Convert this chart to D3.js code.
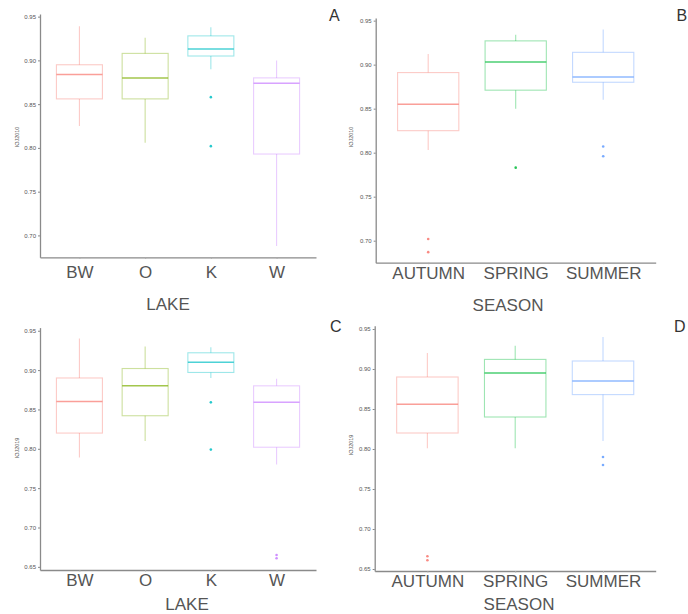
<!DOCTYPE html>
<html>
<head>
<meta charset="utf-8">
<script src="https://cdn.jsdelivr.net/npm/d3@7"></script>
<style>
  body { margin: 0; background: #fff; }
  svg { display: block; font-family: 'Liberation Sans', Arial, sans-serif; }
</style>
</head>
<body>
<svg id="chart"></svg>
<script>
const width = 688;
const height = 614;

const lakes = ['BW', 'O', 'K', 'W'];
const seasons = ['AUTUMN', 'SPRING', 'SUMMER'];
const lakeColors = ['#F8766D', '#7CAE00', '#00BFC4', '#C77CFF'];
const seasonColors = ['#F8766D', '#00BA38', '#619CFF'];
const yTicks = [0.65, 0.70, 0.75, 0.80, 0.85, 0.90, 0.95];

// [whisker low, q1, median, q3, whisker high]
const lake2010 = [
    [0.825, 0.856, 0.884, 0.895, 0.939],
    [0.806, 0.856, 0.880, 0.908, 0.926],
    [0.890, 0.905, 0.913, 0.928, 0.938],
    [0.688, 0.793, 0.874, 0.880, 0.900]
];
const lake2010Out = [[], [], [0.858, 0.802], []];

const season2010 = [
    [0.803, 0.825, 0.855, 0.891, 0.912],
    [0.850, 0.871, 0.903, 0.927, 0.934],
    [0.860, 0.880, 0.886, 0.914, 0.940]
];
const season2010Out = [[0.702, 0.687], [0.783], [0.807, 0.796]];

const lake2019 = [
    [0.789, 0.820, 0.860, 0.890, 0.940],
    [0.810, 0.842, 0.880, 0.902, 0.930],
    [0.890, 0.897, 0.910, 0.922, 0.929],
    [0.780, 0.802, 0.859, 0.880, 0.889]
];
const lake2019Out = [[], [], [0.859, 0.799], [0.665, 0.661]];

const season2019 = [
    [0.801, 0.820, 0.856, 0.890, 0.920],
    [0.801, 0.840, 0.895, 0.912, 0.929],
    [0.810, 0.868, 0.885, 0.910, 0.940]
];
const season2019Out = [[0.666, 0.661], [], [0.790, 0.780]];

const panels = [
    { letter: 'A', yLabel: 'IOJ2010', xLabel: 'LAKE', cats: lakes, colors: lakeColors,
      stats: lake2010, out: lake2010Out, domain: [0.675, 0.953],
      x0: 40, x1: 316, y0: 14, y1: 257.3, gap: 7, titleX: 168, titleY: 310,
      letterX: 329, letterY: 21, yTitleX: 19, yTitleY: 137 },
    { letter: 'B', yLabel: 'IOJ2010', xLabel: 'SEASON', cats: seasons, colors: seasonColors,
      stats: season2010, out: season2010Out, domain: [0.675, 0.953],
      x0: 375.7, x1: 655.7, y0: 18, y1: 262.7, gap: 2.5, titleX: 508, titleY: 310.5,
      letterX: 676.5, letterY: 21, yTitleX: 353, yTitleY: 137 },
    { letter: 'C', yLabel: 'IOJ2019', xLabel: 'LAKE', cats: lakes, colors: lakeColors,
      stats: lake2019, out: lake2019Out, domain: [0.646, 0.954],
      x0: 40, x1: 316, y0: 327.6, y1: 570, gap: 2.5, titleX: 187, titleY: 609.5,
      letterX: 330, letterY: 332, yTitleX: 19, yTitleY: 448 },
    { letter: 'D', yLabel: 'IOJ2019', xLabel: 'SEASON', cats: seasons, colors: seasonColors,
      stats: season2019, out: season2019Out, domain: [0.6475, 0.954],
      x0: 374.7, x1: 655.7, y0: 325.8, y1: 571, gap: 2.5, titleX: 519, titleY: 610,
      letterX: 674, letterY: 332, yTitleX: 353, yTitleY: 445 }
];

const svg = d3.select('#chart')
    .attr('width', width)
    .attr('height', height);

panels.forEach(p => {
    const g = svg.append('g');

    const x = d3.scalePoint()
        .domain(p.cats)
        .range([p.x0, p.x1])
        .padding(0.6);
    const boxW = x.step() * 0.7;

    const y = d3.scaleLinear()
        .domain(p.domain)
        .range([p.y1, p.y0]);

    // y axis
    const yAxis = g.append('g')
        .attr('transform', `translate(${p.x0},0)`)
        .call(d3.axisLeft(y)
            .tickValues(yTicks.filter(t => t >= p.domain[0] && t <= p.domain[1]))
            .tickFormat(d3.format('.2f'))
            .tickSize(2)
            .tickSizeOuter(0)
            .tickPadding(2));
    yAxis.selectAll('text')
        .attr('font-size', 6)
        .attr('font-family', "'Liberation Sans', Arial, sans-serif")
        .attr('fill', '#555');
    yAxis.selectAll('line').attr('stroke', '#888');
    yAxis.select('.domain').attr('stroke', '#8a8a8a').attr('stroke-width', 1.3);

    // x axis
    const xAxis = g.append('g')
        .attr('transform', `translate(0,${p.y1})`)
        .call(d3.axisBottom(x)
            .tickSize(1.5)
            .tickSizeOuter(0)
            .tickPadding(p.gap));
    xAxis.selectAll('text')
        .attr('font-size', 17)
        .attr('font-family', "'Liberation Sans', Arial, sans-serif")
        .attr('fill', '#555');
    xAxis.selectAll('line').attr('stroke', '#aaa');
    xAxis.select('.domain').attr('stroke', '#8a8a8a').attr('stroke-width', 1.3);

    // boxes
    const boxes = g.selectAll('.box')
        .data(p.stats)
        .enter()
        .append('g')
        .attr('class', 'box');

    boxes.append('line')
        .attr('x1', (d, i) => x(p.cats[i]))
        .attr('x2', (d, i) => x(p.cats[i]))
        .attr('y1', d => y(d[4]))
        .attr('y2', d => y(d[3]))
        .attr('stroke', (d, i) => p.colors[i])
        .attr('stroke-opacity', 0.38)
        .attr('stroke-width', 1.1);

    boxes.append('line')
        .attr('x1', (d, i) => x(p.cats[i]))
        .attr('x2', (d, i) => x(p.cats[i]))
        .attr('y1', d => y(d[1]))
        .attr('y2', d => y(d[0]))
        .attr('stroke', (d, i) => p.colors[i])
        .attr('stroke-opacity', 0.38)
        .attr('stroke-width', 1.1);

    boxes.append('rect')
        .attr('x', (d, i) => x(p.cats[i]) - boxW / 2)
        .attr('width', boxW)
        .attr('y', d => y(d[3]))
        .attr('height', d => y(d[1]) - y(d[3]))
        .attr('fill', 'none')
        .attr('stroke', (d, i) => p.colors[i])
        .attr('stroke-opacity', 0.38)
        .attr('stroke-width', 1.1);

    boxes.append('line')
        .attr('x1', (d, i) => x(p.cats[i]) - boxW / 2)
        .attr('x2', (d, i) => x(p.cats[i]) + boxW / 2)
        .attr('y1', d => y(d[2]))
        .attr('y2', d => y(d[2]))
        .attr('stroke', (d, i) => p.colors[i])
        .attr('stroke-opacity', 0.7)
        .attr('stroke-width', 1.5);

    // outliers
    const pts = [];
    p.out.forEach((vals, i) => vals.forEach(v => pts.push({ cat: p.cats[i], v, c: p.colors[i] })));
    g.selectAll('.pt')
        .data(pts)
        .enter()
        .append('circle')
        .attr('cx', d => x(d.cat))
        .attr('cy', d => y(d.v))
        .attr('r', 1.3)
        .attr('fill', d => d.c)
        .attr('opacity', 0.85);

    // titles
    g.append('text')
        .attr('x', p.titleX)
        .attr('y', p.titleY)
        .attr('text-anchor', 'middle')
        .attr('font-size', 17)
        .attr('fill', '#555')
        .text(p.xLabel);

    g.append('text')
        .attr('transform', `translate(${p.yTitleX},${p.yTitleY}) rotate(-90)`)
        .attr('text-anchor', 'middle')
        .attr('font-size', 5.5)
        .attr('font-family', "'Liberation Sans', Arial, sans-serif")
        .attr('fill', '#555')
        .text(p.yLabel);

    g.append('text')
        .attr('x', p.letterX)
        .attr('y', p.letterY)
        .attr('font-size', 16)
        .attr('fill', '#333')
        .text(p.letter);
});
</script>
</body>
</html>
